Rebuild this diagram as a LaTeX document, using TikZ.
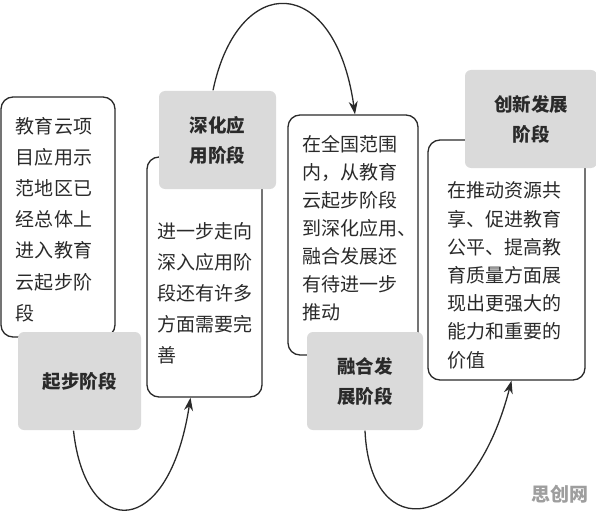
\documentclass[tikz,border=0pt]{standalone}
\usepackage{fontspec}
\setmainfont{Noto Sans CJK SC}
\usetikzlibrary{arrows.meta}

\definecolor{stagegray}{HTML}{DADADA}
\definecolor{inkgray}{HTML}{2A2A2A}

\begin{document}
\begin{tikzpicture}[x=1pt,y=-1pt,line width=1.3pt,
                    >={Stealth[length=13pt,width=9pt]}]

  \tikzstyle{plain box}=[draw=inkgray,fill=white,rounded corners=12pt,
                         minimum height=240pt,inner sep=0pt]
  \tikzstyle{stage}=[fill=stagegray,rounded corners=6pt,minimum height=98pt,
                     inner sep=0pt,align=center,text=inkgray,
                     font=\bfseries\fontsize{18.5}{30}\selectfont]
  \tikzstyle{body}=[anchor=north west,inner sep=0pt,align=left,text=inkgray]

  \useasboundingbox (0,0) rectangle (596,513);

  % white boxes
  \node[plain box,minimum width=114pt] (b1) at (58,217) {};
  \node[plain box,minimum width=115pt] (b2) at (204.5,277) {};
  \node[plain box,minimum width=130pt] (b3) at (353,235) {};
  \node[plain box,minimum width=157pt] (b4) at (506.5,260) {};

  % texts in the boxes
  \node[body,font=\fontsize{19}{31.2}\selectfont] (t1) at ([shift={(15,20)}]b1.north west)
    {教育云项\\目应用示\\范地区已\\经总体上\\进入教育\\云起步阶\\段};
  \node[body,font=\fontsize{19}{31.2}\selectfont] (t2) at ([shift={(10,65)}]b2.north west)
    {进一步走向\\深入应用阶\\段还有许多\\方面需要完\\善};
  \node[body,font=\fontsize{19}{28}\selectfont] (t3) at ([shift={(14,20)}]b3.north west)
    {在全国范围\\内，从教育\\云起步阶段\\到深化应用、\\融合发展还\\有待进一步\\推动};
  \node[body,font=\fontsize{19}{28.2}\selectfont] (t4) at ([shift={(19,42)}]b4.north west)
    {在推动资源共\\享、促进教育\\公平、提高教\\育质量方面展\\现出更强大的\\能力和重要的\\价值};

  % stages
  \node[stage,minimum width=123pt] (s1) at (79.5,381) {起步阶段};
  \node[stage,minimum width=117pt] (s2) at (217.5,140) {深化应\\用阶段};
  \node[stage,minimum width=116pt] (s3) at (365,381) {融合发\\展阶段};
  \node[stage,minimum width=132pt] (s4) at (531,119) {创新发展\\阶段};

  \draw[->,draw=inkgray] ([xshift=-6pt]s1.south)
    .. controls +(12,110) and +(-22,143) .. ([xshift=-14pt]b2.south);
  \draw[->,draw=inkgray] ([xshift=-4.5pt]s2.north)
    .. controls +(25,-119) and +(-20,-142) .. ([xshift=2pt]b3.north);
  \draw[->,draw=inkgray] (s3.south)
    .. controls +(5,115) and +(-40,155) .. ([xshift=5pt]b4.south);

  \node[text=black!38,font=\bfseries\fontsize{19}{19}\selectfont] (wm) at (560,494) {思创网};

\end{tikzpicture}
\end{document}
